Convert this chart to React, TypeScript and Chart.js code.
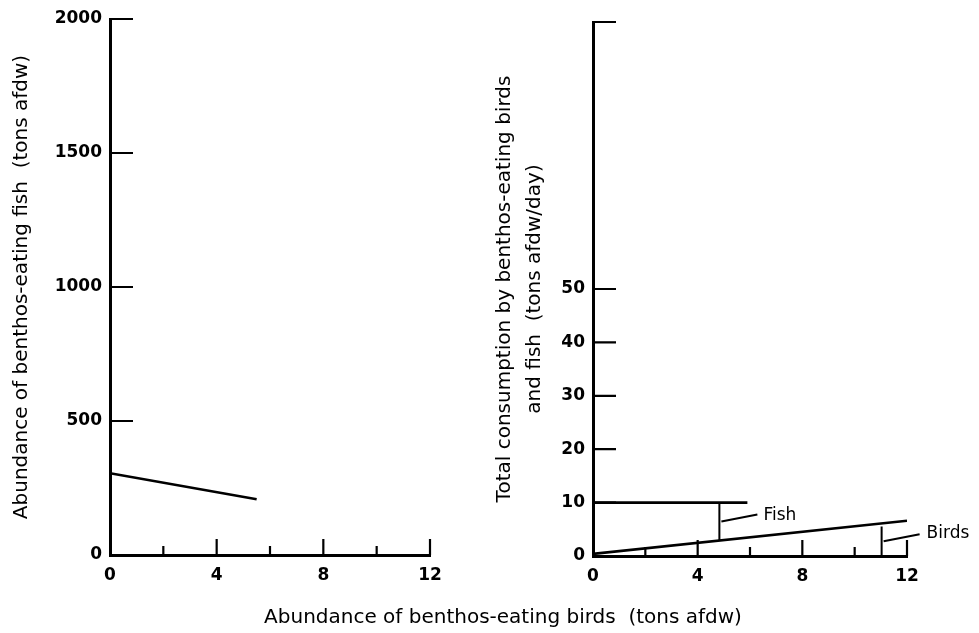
import React, { useEffect, useRef } from "react";
import { Chart, registerables } from "chart.js";

Chart.register(...registerables);

// ---- Left panel data ----
const fishAbundanceX = [0, 5.5];
const fishAbundanceY = [305, 208];
const leftYTickLabels = [0, 500, 1000, 1500, 2000];
const leftYMarks = [500, 1000, 1500, 2000];

// ---- Right panel data ----
const fishConsumptionX = [0, 5.9];
const fishConsumptionY = [10, 10];
const birdsConsumptionX = [0, 12];
const birdsConsumptionY = [0.4, 6.6];
const rightYTickLabels = [0, 10, 20, 30, 40, 50];
const rightYMarks = [10, 20, 30, 40, 50, 100];

// ---- Shared x axis ----
const xTickLabels = [0, 4, 8, 12];
const xMinorMarks = [2, 6, 10];
const xMajorMarks = [4, 8, 12];

// ---- Annotation positions (data units) ----
const fishBracketX = 4.83;
const birdsBracketX = 11.03;

const FONT = "'DejaVu Sans', sans-serif";

function interp(xs: number[], ys: number[], x: number) {
  const t = (x - xs[0]) / (xs[1] - xs[0]);
  return ys[0] + t * (ys[1] - ys[0]);
}

function toPoints(xs: number[], ys: number[]) {
  return xs.map((x, i) => ({ x, y: ys[i] }));
}

function makeMarksPlugin(yMarks: number[], yLen: number, annotate: boolean) {
  return {
    id: "marks",
    afterDatasetsDraw(chart: any) {
      const { ctx, chartArea, scales } = chart;
      const x = scales.x;
      const y = scales.y;
      ctx.save();
      ctx.strokeStyle = "#000";
      ctx.fillStyle = "#000";
      ctx.lineWidth = 2.2;
      ctx.lineCap = "butt";
      ctx.beginPath();
      yMarks.forEach((v) => {
        const py = y.getPixelForValue(v);
        ctx.moveTo(chartArea.left, py);
        ctx.lineTo(chartArea.left + yLen, py);
      });
      xMajorMarks.forEach((v) => {
        const px = x.getPixelForValue(v);
        ctx.moveTo(px, chartArea.bottom);
        ctx.lineTo(px, chartArea.bottom - 16);
      });
      xMinorMarks.forEach((v) => {
        const px = x.getPixelForValue(v);
        ctx.moveTo(px, chartArea.bottom);
        ctx.lineTo(px, chartArea.bottom - 9);
      });
      ctx.stroke();

      if (annotate) {
        ctx.lineWidth = 2;
        // Fish bracket
        const fx = x.getPixelForValue(fishBracketX);
        const fTop = y.getPixelForValue(interp(fishConsumptionX, fishConsumptionY, fishBracketX));
        const fBot = y.getPixelForValue(interp(birdsConsumptionX, birdsConsumptionY, fishBracketX));
        ctx.beginPath();
        ctx.moveTo(fx, fTop);
        ctx.lineTo(fx, fBot);
        const fMid = (fTop + fBot) / 2;
        ctx.moveTo(fx + 2, fMid);
        ctx.lineTo(fx + 38, fMid - 7);
        ctx.stroke();
        ctx.font = `17px ${FONT}`;
        ctx.textBaseline = "middle";
        ctx.textAlign = "left";
        ctx.fillText("Fish", fx + 44, fMid - 6);

        // Birds bracket
        const bx = x.getPixelForValue(birdsBracketX);
        const bTop = y.getPixelForValue(interp(birdsConsumptionX, birdsConsumptionY, birdsBracketX)) + 3;
        const bBot = y.getPixelForValue(0);
        ctx.beginPath();
        ctx.moveTo(bx, bTop);
        ctx.lineTo(bx, bBot);
        const bMid = (bTop + bBot) / 2;
        ctx.moveTo(bx + 2, bMid);
        ctx.lineTo(bx + 38, bMid - 7);
        ctx.stroke();
        ctx.fillText("Birds", bx + 45, bMid - 8);
      }
      ctx.restore();
    },
  };
}

const tickFont = { family: FONT, size: 17, weight: "bold" as const };

function baseOptions(opts: {
  yMax: number;
  yTicks: number[];
  yWidth: number;
  padRight: number;
  padTop: number;
  padBottom: number;
  title: string | string[];
  titleLineHeight: number;
  titlePad: number;
}) {
  return {
    responsive: false,
    animation: false,
    events: [],
    layout: { padding: { left: 0, right: opts.padRight, top: opts.padTop, bottom: opts.padBottom } },
    plugins: { legend: { display: false }, tooltip: { enabled: false }, title: { display: false } },
    scales: {
      x: {
        type: "linear",
        min: 0,
        max: 12,
        grid: { display: false, drawTicks: false },
        border: { display: true, color: "#000", width: 3 },
        ticks: { color: "#000", font: tickFont, padding: 10, callback: (v: any) => String(v) },
        afterBuildTicks: (scale: any) => {
          scale.ticks = xTickLabels.map((v) => ({ value: v }));
        },
        afterFit: (scale: any) => {
          scale.height = 40;
        },
      },
      y: {
        type: "linear",
        min: 0,
        max: opts.yMax,
        grid: { display: false, drawTicks: false },
        border: { display: true, color: "#000", width: 3 },
        ticks: { color: "#000", font: tickFont, padding: 8, callback: (v: any) => String(v) },
        afterBuildTicks: (scale: any) => {
          scale.ticks = opts.yTicks.map((v) => ({ value: v }));
        },
        afterFit: (scale: any) => {
          scale.width = opts.yWidth;
        },
        title: {
          display: true,
          text: opts.title,
          color: "#000",
          font: { family: FONT, size: 20, lineHeight: opts.titleLineHeight },
          padding: { top: opts.titlePad, bottom: 0 },
        },
      },
    },
  };
}

function LeftPanel() {
  const ref = useRef<HTMLCanvasElement>(null);
  useEffect(() => {
    const chart = new Chart(ref.current as HTMLCanvasElement, {
      type: "scatter",
      data: {
        datasets: [
          {
            data: toPoints(fishAbundanceX, fishAbundanceY),
            showLine: true,
            borderColor: "#000",
            borderWidth: 2.6,
            pointRadius: 0,
          },
        ],
      },
      options: baseOptions({
        yMax: 2000,
        yTicks: leftYTickLabels,
        yWidth: 110,
        padRight: 60,
        padTop: 19,
        padBottom: 633 - 555 - 40,
        title: "Abundance of benthos-eating fish  (tons afdw)",
        titleLineHeight: 1.2,
        titlePad: 10,
      }) as any,
      plugins: [makeMarksPlugin(leftYMarks, 23, false)],
    });
    return () => chart.destroy();
  }, []);
  return (
    <canvas
      ref={ref}
      width={490}
      height={633}
      style={{ position: "absolute", left: 0, top: 0, width: 490, height: 633 }}
    />
  );
}

function RightPanel() {
  const ref = useRef<HTMLCanvasElement>(null);
  useEffect(() => {
    const chart = new Chart(ref.current as HTMLCanvasElement, {
      type: "scatter",
      data: {
        datasets: [
          {
            data: toPoints(fishConsumptionX, fishConsumptionY),
            showLine: true,
            borderColor: "#000",
            borderWidth: 2.6,
            pointRadius: 0,
          },
          {
            data: toPoints(birdsConsumptionX, birdsConsumptionY),
            showLine: true,
            borderColor: "#000",
            borderWidth: 2.6,
            pointRadius: 0,
          },
        ],
      },
      options: baseOptions({
        yMax: 100,
        yTicks: rightYTickLabels,
        yWidth: 123,
        padRight: 72,
        padTop: 22,
        padBottom: 633 - 556 - 40,
        title: ["Total consumption by benthos-eating birds", "and fish  (tons afdw/day)"],
        titleLineHeight: 1.5,
        titlePad: 20,
      }) as any,
      plugins: [makeMarksPlugin(rightYMarks, 23, true)],
    });
    return () => chart.destroy();
  }, []);
  return (
    <canvas
      ref={ref}
      width={509}
      height={633}
      style={{ position: "absolute", left: 470, top: 0, width: 509, height: 633 }}
    />
  );
}

export default function App() {
  return (
    <div
      style={{
        position: "absolute",
        left: 0,
        top: 0,
        width: 979,
        height: 633,
        background: "#fff",
        overflow: "hidden",
      }}
    >
      <LeftPanel />
      <RightPanel />
      <div
        style={{
          position: "absolute",
          left: 503,
          top: 604,
          transform: "translateX(-50%)",
          whiteSpace: "pre",
          fontFamily: FONT,
          fontSize: 20,
          lineHeight: "24px",
          color: "#000",
        }}
      >
        Abundance of benthos-eating birds  (tons afdw)
      </div>
    </div>
  );
}
